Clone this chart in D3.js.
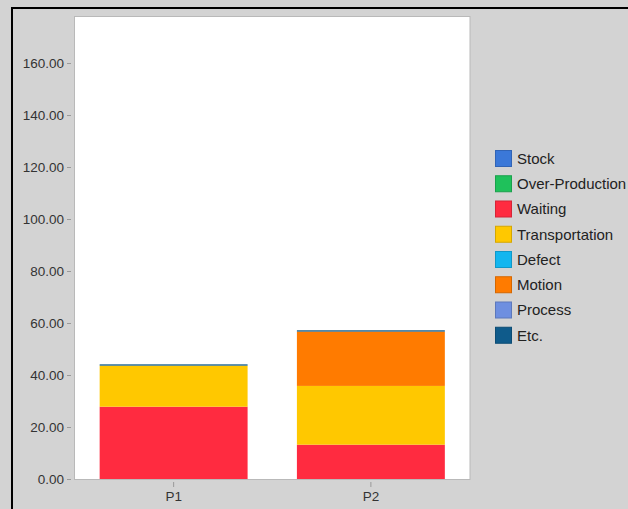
<!DOCTYPE html>
<html>
<head>
<meta charset="utf-8">
<script src="https://cdn.jsdelivr.net/npm/d3@7"></script>
<style>
  html, body { margin: 0; padding: 0; background: #d3d3d3; }
  svg { display: block; }
  text { font-family: "Liberation Sans", Arial, sans-serif; }
</style>
</head>
<body>
<svg id="chart" width="628" height="509"></svg>
<script>
// Products on the x axis
const categories = ["P1", "P2"];

// Waste types (stack order, bottom to top) and their colours
const seriesNames = ["Stock", "Over-Production", "Waiting", "Transportation", "Defect", "Motion", "Process", "Etc."];
const seriesColors = ["#3b78d8", "#1fc15b", "#ff2b40", "#ffc800", "#13b6ef", "#ff7b00", "#6e8fe0", "#0f5b8b"];

// Values per waste type, one entry per product
const stockValues          = [0, 0];
const overProductionValues = [0, 0];
const waitingValues        = [27.8, 13.2];
const transportationValues = [15.8, 22.6];
const defectValues         = [0, 0];
const motionValues         = [0, 20.9];
const processValues        = [0, 0];
const etcValues            = [0.5, 0.5];

const yTicks = [0, 20, 40, 60, 80, 100, 120, 140, 160];
const yMax = 177.7;

const seriesValues = [stockValues, overProductionValues, waitingValues, transportationValues,
                      defectValues, motionValues, processValues, etcValues];

const rows = categories.map((c, i) => {
  const r = { category: c };
  seriesNames.forEach((s, k) => { r[s] = seriesValues[k][i]; });
  return r;
});

const svg = d3.select("#chart");

// outer frame lines
svg.append("line").attr("x1", 11).attr("x2", 628).attr("y1", 8).attr("y2", 8)
  .attr("stroke", "#000").attr("stroke-width", 2);
svg.append("line").attr("x1", 12).attr("x2", 12).attr("y1", 7).attr("y2", 509)
  .attr("stroke", "#000").attr("stroke-width", 2);

const plot = { left: 75, right: 469.5, top: 17, bottom: 479 };

const x = d3.scaleBand().domain(categories).range([plot.left, plot.right])
  .paddingInner(0.25).paddingOuter(0.125);
const y = d3.scaleLinear().domain([0, yMax]).range([plot.bottom, plot.top]);
const color = d3.scaleOrdinal().domain(seriesNames).range(seriesColors);

// plot background
svg.append("rect")
  .attr("x", plot.left - 0.5).attr("y", plot.top - 0.5)
  .attr("width", plot.right - plot.left + 1).attr("height", plot.bottom - plot.top + 1)
  .attr("fill", "#fff").attr("stroke", "#b9b9b9").attr("stroke-width", 1);

// stacked bars
const stacked = d3.stack().keys(seriesNames)(rows);
svg.append("g").selectAll("g")
  .data(stacked)
  .join("g")
  .attr("fill", d => color(d.key))
  .selectAll("rect")
  .data(d => d.filter(p => p[1] - p[0] > 0))
  .join("rect")
  .attr("x", d => x(d.data.category))
  .attr("width", x.bandwidth())
  .attr("y", d => y(d[1]))
  .attr("height", d => y(d[0]) - y(d[1]));

// y axis
const yAxis = svg.append("g")
  .attr("transform", `translate(${plot.left - 4},0)`)
  .call(d3.axisLeft(y).tickValues(yTicks).tickFormat(d3.format(".2f")).tickSize(4).tickPadding(3));
yAxis.select(".domain").remove();
yAxis.selectAll(".tick line").attr("stroke", "#9a9a9a");
yAxis.selectAll(".tick text").attr("fill", "#333").style("font-size", "13.5px");

// x axis
const xAxis = svg.append("g")
  .attr("transform", `translate(0,${plot.bottom + 3})`)
  .call(d3.axisBottom(x).tickSize(5).tickPadding(4));
xAxis.select(".domain").remove();
xAxis.selectAll(".tick line").attr("stroke", "#9a9a9a");
xAxis.selectAll(".tick text").attr("fill", "#333").style("font-size", "13.5px");

// legend
const legend = svg.append("g").attr("transform", "translate(495,150)");
const item = legend.selectAll("g")
  .data(seriesNames)
  .join("g")
  .attr("transform", (d, i) => `translate(0,${i * 25.25})`);
item.append("rect")
  .attr("x", 0.5).attr("y", 0.5).attr("width", 16).attr("height", 16)
  .attr("fill", d => color(d))
  .attr("stroke", d => d3.color(color(d)).darker(0.5))
  .attr("stroke-width", 1);
item.append("text")
  .attr("x", 22).attr("y", 8.5).attr("dy", "0.35em")
  .attr("fill", "#222")
  .style("font-size", "15px")
  .text(d => d);
</script>
</body>
</html>
